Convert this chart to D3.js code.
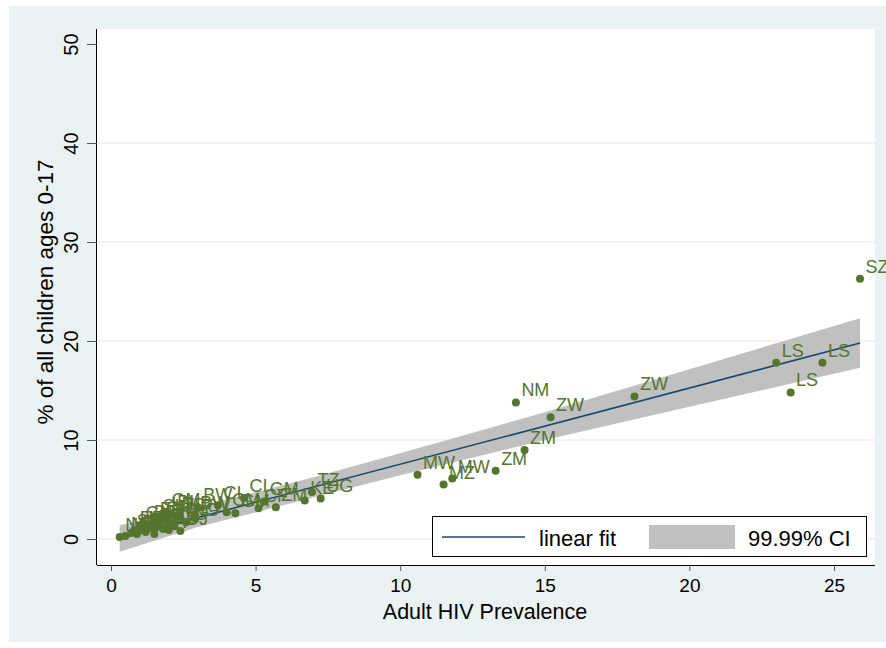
<!DOCTYPE html>
<html>
<head>
<meta charset="utf-8">
<script src="https://cdn.jsdelivr.net/npm/d3@7"></script>
<style>
  body { margin: 0; background: #fff; }
  text { font-family: "Liberation Sans", Arial, sans-serif; }
</style>
</head>
<body>
<div id="chart"></div>
<script>
// Country codes, adult HIV prevalence (x) and % of children orphaned (y)
var codes = ["SZ", "LS", "LS", "LS", "ZW", "NM", "ZW", "ZM", "ZM", "MW", "MW", "MZ",
  "TZ", "KE", "UG", "CI", "GM", "CI", "BW", "GM", "BW", "GM", "ZM", "CM", "CF",
  "NE", "MD", "DR", "ER", "GN", "SN", "ML", "BF", "HT", "ET", "GH", "CD", "BJ",
  "TG", "SL", "LR", "BI", "CG", "AO", "SD", "DJ", "GA", "RW", "NG", "TD"];
var hiv = [25.9, 23.0, 24.6, 23.5, 18.1, 14.0, 15.2, 14.3, 13.3, 10.6, 11.8, 11.5,
  6.95, 6.7, 7.25, 4.6, 5.3, 3.7, 3.0, 1.9, 2.9, 4.3, 5.7, 4.0, 5.1,
  0.3, 0.5, 0.9, 0.8, 1.0, 0.7, 1.1, 1.3, 1.6, 1.5, 1.7, 1.4, 1.2,
  2.0, 1.6, 1.9, 2.1, 2.2, 2.0, 1.8, 2.4, 1.5, 2.9, 2.6, 2.3];
var orphan = [26.3, 17.8, 17.8, 14.8, 14.4, 13.8, 12.3, 9.0, 6.9, 6.5, 6.1, 5.5,
  4.75, 3.9, 4.1, 4.15, 3.8, 3.4, 3.2, 2.7, 2.4, 2.6, 3.2, 2.7, 3.1,
  0.2, 0.3, 0.5, 0.9, 1.4, 0.6, 0.9, 1.5, 1.2, 1.8, 1.9, 1.1, 0.7,
  1.6, 2.1, 2.3, 2.5, 1.3, 0.9, 1.0, 0.8, 0.5, 2.1, 1.7, 2.2];

// Linear fit and its 99.99% confidence band
var fitX = [0.3, 25.9];
var fitY = [0.08, 19.8];
var ciX = [0.3, 3, 7, 10, 15, 20, 25.9];
var ciLow = [-1.3, 1.2, 4.2, 6.45, 10.0, 13.35, 17.3];
var ciHigh = [1.4, 3.2, 6.25, 8.65, 12.8, 17.15, 22.3];

var xTicks = [0, 5, 10, 15, 20, 25];
var yTicks = [0, 10, 20, 30, 40, 50];

var W = 886, H = 648;
var plot = { left: 97, top: 29, right: 875, bottom: 565 };

var svg = d3.select("#chart").append("svg")
    .attr("width", W)
    .attr("height", H);

// graph region and plot region
svg.append("rect")
    .attr("x", 9).attr("y", 6)
    .attr("width", W - 9).attr("height", 636)
    .attr("fill", "#eaf2f3");
svg.append("rect")
    .attr("x", plot.left).attr("y", plot.top)
    .attr("width", plot.right - plot.left).attr("height", plot.bottom - plot.top)
    .attr("fill", "#fff");

var x = d3.scaleLinear().domain([0, 25]).range([111, 834]);
var y = d3.scaleLinear().domain([0, 50]).range([539, 44]);

// grid lines
svg.append("g")
    .selectAll("line")
    .data(yTicks.filter(function (d) { return d < 50; }))
    .enter()
    .append("line")
    .attr("x1", plot.left).attr("x2", plot.right)
    .attr("y1", function (d) { return y(d); })
    .attr("y2", function (d) { return y(d); })
    .attr("stroke", "#eaf2f3")
    .attr("stroke-width", 1.5);

// CI band
var area = d3.area()
    .x(function (d, i) { return x(ciX[i]); })
    .y0(function (d, i) { return y(ciLow[i]); })
    .y1(function (d, i) { return y(ciHigh[i]); });
svg.append("path")
    .datum(ciX)
    .attr("d", area)
    .attr("fill", "#c0c0c0");

// fit line
var line = d3.line()
    .x(function (d, i) { return x(fitX[i]); })
    .y(function (d, i) { return y(fitY[i]); });
svg.append("path")
    .datum(fitX)
    .attr("d", line)
    .attr("fill", "none")
    .attr("stroke", "#1a476f")
    .attr("stroke-width", 1.6);

// points
var idx = d3.range(codes.length);
svg.append("g")
    .selectAll("circle")
    .data(idx)
    .enter()
    .append("circle")
    .attr("cx", function (i) { return x(hiv[i]); })
    .attr("cy", function (i) { return y(orphan[i]); })
    .attr("r", 4)
    .attr("fill", "#55752f");

// marker labels
svg.append("g")
    .selectAll("text")
    .data(idx)
    .enter()
    .append("text")
    .attr("x", function (i) { return x(hiv[i]) + 5.5; })
    .attr("y", function (i) { return y(orphan[i]) - 6; })
    .attr("font-size", 18)
    .attr("fill", "#55752f")
    .text(function (i) { return codes[i]; });

// x axis
var xAxis = svg.append("g")
    .attr("transform", "translate(0," + plot.bottom + ")")
    .call(d3.axisBottom(x).tickValues(xTicks).tickSize(6).tickPadding(8).tickSizeOuter(0));
xAxis.select(".domain")
    .attr("d", "M" + plot.left + ",0.5H" + plot.right)
    .attr("stroke", "#000");
xAxis.selectAll(".tick line").attr("stroke", "#555");
xAxis.selectAll(".tick text")
    .attr("font-size", 19)
    .attr("font-family", "Liberation Sans, Arial, sans-serif")
    .attr("fill", "#000");

// y axis
var yAxis = svg.append("g")
    .attr("transform", "translate(" + plot.left + ",0)")
    .call(d3.axisLeft(y).tickValues(yTicks).tickSize(10).tickSizeOuter(0));
yAxis.select(".domain")
    .attr("d", "M-0.5," + plot.top + "V" + plot.bottom)
    .attr("stroke", "#000");
yAxis.selectAll(".tick line").attr("stroke", "#555");
yAxis.selectAll(".tick text")
    .attr("font-size", 20)
    .attr("font-family", "Liberation Sans, Arial, sans-serif")
    .attr("fill", "#000")
    .attr("text-anchor", "middle")
    .attr("x", 0).attr("y", 0).attr("dy", 0)
    .attr("dominant-baseline", "central")
    .attr("transform", "translate(-26,0) rotate(-90)");

// axis titles
svg.append("text")
    .attr("x", 485)
    .attr("y", 619)
    .attr("text-anchor", "middle")
    .attr("font-size", 21.5)
    .text("Adult HIV Prevalence");

svg.append("text")
    .attr("transform", "translate(53,292) rotate(-90)")
    .attr("text-anchor", "middle")
    .attr("font-size", 22.5)
    .text("% of all children ages 0-17");

// legend
var lg = svg.append("g");
lg.append("rect")
    .attr("x", 432.5).attr("y", 516.5)
    .attr("width", 434).attr("height", 40)
    .attr("fill", "#fff")
    .attr("stroke", "#000");
lg.append("line")
    .attr("x1", 442).attr("x2", 525)
    .attr("y1", 537).attr("y2", 537)
    .attr("stroke", "#1a476f")
    .attr("stroke-width", 1.6);
lg.append("text")
    .attr("x", 539).attr("y", 546)
    .attr("font-size", 22)
    .text("linear fit");
lg.append("rect")
    .attr("x", 649).attr("y", 525)
    .attr("width", 86).attr("height", 24)
    .attr("fill", "#c0c0c0");
lg.append("text")
    .attr("x", 748).attr("y", 546)
    .attr("font-size", 22)
    .text("99.99% CI");
</script>
</body>
</html>
